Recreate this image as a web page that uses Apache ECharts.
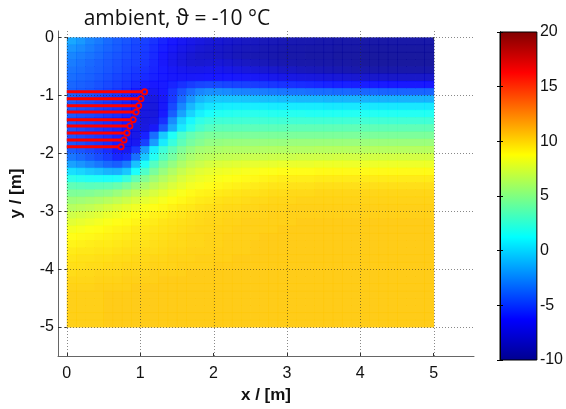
<!DOCTYPE html>
<html><head><meta charset="utf-8">
<script src="https://cdn.jsdelivr.net/npm/echarts@6/dist/echarts.min.js"></script>
<style>html,body{margin:0;padding:0;background:#fff}#c{width:566px;height:409px}</style>
</head><body><div id="c"></div>
<script>
const titleText = 'ambient, \u03D1 = -10 °C';
const xName = 'x / [m]';
const yName = 'y / [m]';
const xTicks = [0, 1, 2, 3, 4, 5];
const yTicks = [0, -1, -2, -3, -4, -5];
const cbTicks = [-10, -5, 0, 5, 10, 15, 20];
const cbRange = [-10, 20];

// cell centres (m), 0.125 m spacing
const xCells = [0.0625,0.1875,0.3125,0.4375,0.5625,0.6875,0.8125,0.9375,1.0625,1.1875,
  1.3125,1.4375,1.5625,1.6875,1.8125,1.9375,2.0625,2.1875,2.3125,2.4375,
  2.5625,2.6875,2.8125,2.9375,3.0625,3.1875,3.3125,3.4375,3.5625,3.6875,
  3.8125,3.9375,4.0625,4.1875,4.3125,4.4375,4.5625,4.6875,4.8125,4.9375];
const yCells = [-0.0625,-0.1875,-0.3125,-0.4375,-0.5625,-0.6875,-0.8125,-0.9375,-1.0625,-1.1875,
  -1.3125,-1.4375,-1.5625,-1.6875,-1.8125,-1.9375,-2.0625,-2.1875,-2.3125,-2.4375,
  -2.5625,-2.6875,-2.8125,-2.9375,-3.0625,-3.1875,-3.3125,-3.4375,-3.5625,-3.6875,
  -3.8125,-3.9375,-4.0625,-4.1875,-4.3125,-4.4375,-4.5625,-4.6875,-4.8125,-4.9375];

// temperature (°C): one row per yCells entry, one column per xCells entry
const T = [
 [-1.6,-2.1,-2.7,-3.1,-3.6,-4.0,-4.3,-4.7,-5.0,-5.4,-5.9,-6.3,-6.7,-7.1,-7.4,-7.7,-7.9,-8.1,-8.3,-8.5,-8.6,-8.8,-8.9,-9.0,-9.1,-9.2,-9.2,-9.3,-9.3,-9.4,-9.4,-9.4,-9.5,-9.5,-9.5,-9.5,-9.5,-9.5,-9.5,-9.5],
 [-2.2,-2.6,-3.0,-3.4,-3.8,-4.1,-4.5,-4.8,-5.1,-5.6,-6.1,-6.6,-7.1,-7.5,-7.9,-8.1,-8.3,-8.5,-8.7,-8.8,-8.9,-9.1,-9.2,-9.3,-9.4,-9.4,-9.5,-9.5,-9.5,-9.6,-9.6,-9.6,-9.7,-9.7,-9.7,-9.7,-9.7,-9.7,-9.7,-9.7],
 [-2.7,-3.0,-3.3,-3.6,-4.0,-4.3,-4.6,-4.9,-5.2,-5.7,-6.3,-6.9,-7.4,-7.9,-8.2,-8.3,-8.4,-8.6,-8.8,-9.0,-9.1,-9.2,-9.3,-9.4,-9.5,-9.5,-9.6,-9.6,-9.6,-9.7,-9.7,-9.7,-9.8,-9.8,-9.8,-9.8,-9.8,-9.8,-9.8,-9.8],
 [-3.0,-3.3,-3.6,-3.9,-4.2,-4.5,-4.8,-5.0,-5.3,-5.8,-6.4,-7.0,-7.5,-7.9,-8.0,-7.9,-7.8,-8.0,-8.3,-8.5,-8.7,-8.9,-9.1,-9.2,-9.3,-9.4,-9.4,-9.5,-9.5,-9.6,-9.6,-9.7,-9.8,-9.8,-9.8,-9.8,-9.8,-9.8,-9.8,-9.8],
 [-3.3,-3.5,-3.8,-4.0,-4.3,-4.6,-4.9,-5.2,-5.5,-5.9,-6.2,-6.6,-6.9,-7.1,-7.1,-7.0,-7.0,-7.2,-7.4,-7.6,-7.8,-8.0,-8.2,-8.4,-8.5,-8.7,-8.8,-8.9,-9.0,-9.1,-9.2,-9.3,-9.3,-9.4,-9.4,-9.4,-9.4,-9.4,-9.4,-9.4],
 [-3.5,-3.7,-3.9,-4.2,-4.5,-4.8,-5.1,-5.4,-5.7,-6.0,-6.2,-6.4,-6.5,-6.5,-6.4,-6.3,-6.3,-6.3,-6.4,-6.5,-6.6,-6.8,-7.0,-7.2,-7.3,-7.4,-7.5,-7.6,-7.7,-7.8,-7.9,-8.0,-8.1,-8.2,-8.2,-8.3,-8.3,-8.3,-8.3,-8.3],
 [-3.7,-3.9,-4.1,-4.4,-4.7,-5.0,-5.3,-5.7,-6.1,-6.3,-6.2,-5.9,-5.5,-5.1,-4.8,-4.7,-4.7,-4.8,-4.9,-5.0,-5.1,-5.2,-5.3,-5.4,-5.5,-5.6,-5.7,-5.8,-5.9,-6.0,-6.0,-6.1,-6.1,-6.2,-6.2,-6.3,-6.3,-6.3,-6.3,-6.3],
 [-3.9,-4.1,-4.3,-4.6,-4.9,-5.2,-5.6,-6.2,-6.8,-6.8,-6.3,-5.3,-4.3,-3.4,-2.7,-2.4,-2.4,-2.5,-2.7,-2.8,-2.9,-3.0,-3.1,-3.2,-3.3,-3.3,-3.4,-3.5,-3.5,-3.6,-3.6,-3.7,-3.7,-3.7,-3.8,-3.8,-3.8,-3.8,-3.8,-3.8],
 [-4.0,-4.3,-4.5,-4.8,-5.1,-5.4,-5.8,-6.4,-7.2,-7.4,-6.6,-5.2,-3.6,-2.2,-1.2,-0.8,-0.6,-0.6,-0.6,-0.7,-0.8,-0.9,-0.9,-1.0,-1.0,-1.1,-1.1,-1.1,-1.2,-1.2,-1.2,-1.2,-1.3,-1.3,-1.3,-1.3,-1.3,-1.3,-1.3,-1.3],
 [-4.1,-4.4,-4.6,-4.9,-5.2,-5.5,-5.9,-6.6,-7.4,-7.6,-6.5,-4.7,-2.7,-1.1,-0.1,0.4,0.6,0.7,0.7,0.7,0.7,0.7,0.6,0.6,0.6,0.6,0.6,0.6,0.5,0.5,0.5,0.5,0.5,0.5,0.5,0.5,0.5,0.5,0.5,0.5],
 [-4.2,-4.5,-4.7,-5.0,-5.3,-5.6,-6.0,-6.8,-7.5,-7.6,-6.2,-4.0,-1.8,-0.2,0.8,1.3,1.6,1.7,1.8,1.8,1.8,1.8,1.7,1.7,1.7,1.7,1.6,1.6,1.6,1.6,1.6,1.6,1.6,1.6,1.6,1.6,1.6,1.6,1.6,1.6],
 [-4.3,-4.6,-4.8,-5.1,-5.4,-5.7,-6.2,-7.0,-7.6,-7.3,-5.5,-2.5,-0.2,1.0,2.0,2.4,2.6,2.6,2.6,2.6,2.6,2.6,2.6,2.6,2.6,2.6,2.6,2.6,2.6,2.6,2.6,2.6,2.6,2.6,2.6,2.6,2.6,2.6,2.6,2.6],
 [-4.3,-4.6,-4.9,-5.2,-5.5,-5.8,-6.4,-7.2,-7.4,-6.5,-4.2,-1.5,0.6,1.9,2.8,3.3,3.5,3.5,3.5,3.5,3.5,3.5,3.5,3.5,3.6,3.6,3.6,3.6,3.6,3.6,3.6,3.6,3.6,3.6,3.6,3.6,3.6,3.6,3.6,3.6],
 [-4.3,-4.6,-4.9,-5.2,-5.5,-6.0,-6.7,-7.2,-6.0,-3.5,-0.5,1.5,2.9,3.7,4.2,4.5,4.5,4.5,4.5,4.5,4.5,4.5,4.5,4.5,4.5,4.5,4.5,4.5,4.5,4.5,4.5,4.5,4.5,4.5,4.5,4.5,4.5,4.5,4.5,4.5],
 [-4.2,-4.5,-4.9,-5.2,-5.6,-6.2,-6.9,-6.8,-5.0,-2.0,0.6,2.3,3.5,4.3,4.8,5.2,5.3,5.4,5.4,5.4,5.4,5.4,5.4,5.4,5.5,5.5,5.5,5.5,5.5,5.5,5.5,5.5,5.5,5.5,5.5,5.5,5.5,5.5,5.5,5.5],
 [-4.0,-4.3,-4.7,-5.1,-5.6,-6.4,-6.8,-5.2,-2.0,0.8,2.5,3.6,4.6,5.3,5.8,6.0,6.1,6.2,6.2,6.2,6.2,6.3,6.3,6.3,6.3,6.3,6.3,6.4,6.4,6.4,6.4,6.4,6.4,6.4,6.4,6.4,6.4,6.4,6.4,6.4],
 [-3.2,-3.6,-4.1,-4.6,-5.1,-5.8,-5.6,-3.4,-0.6,1.6,3.2,4.3,5.3,6.0,6.4,6.6,6.7,6.8,6.9,7.0,7.0,7.0,7.1,7.1,7.1,7.2,7.2,7.2,7.2,7.3,7.3,7.3,7.3,7.3,7.3,7.3,7.3,7.3,7.3,7.3],
 [-1.8,-2.2,-2.7,-3.2,-3.7,-4.0,-3.2,-0.8,1.5,3.2,4.4,5.3,6.1,6.7,7.1,7.4,7.6,7.7,7.8,7.9,8.0,8.0,8.0,8.1,8.1,8.1,8.1,8.2,8.2,8.2,8.2,8.2,8.2,8.2,8.2,8.2,8.2,8.2,8.2,8.2],
 [0.2,-0.1,-0.5,-0.8,-1.2,-1.3,-0.6,1.3,3.0,4.4,5.4,6.2,6.9,7.4,7.8,8.0,8.2,8.3,8.4,8.5,8.6,8.7,8.7,8.8,8.8,8.8,8.8,8.9,8.9,8.9,8.9,8.9,8.9,8.9,8.9,8.9,8.9,8.9,8.9,8.9],
 [2.0,1.8,1.6,1.5,1.4,1.5,2.3,3.6,4.7,5.6,6.3,6.9,7.5,7.9,8.2,8.4,8.6,8.7,8.8,8.9,9.0,9.1,9.2,9.3,9.3,9.3,9.3,9.4,9.4,9.4,9.4,9.4,9.4,9.4,9.4,9.4,9.4,9.4,9.4,9.4],
 [3.6,3.5,3.4,3.5,3.6,3.9,4.5,5.3,6.0,6.6,7.1,7.6,8.0,8.4,8.6,8.8,9.0,9.1,9.2,9.3,9.4,9.5,9.6,9.6,9.7,9.7,9.7,9.8,9.8,9.8,9.8,9.8,9.8,9.8,9.8,9.8,9.8,9.8,9.8,9.8],
 [4.6,4.6,4.7,4.9,5.1,5.5,6.0,6.6,7.1,7.5,7.9,8.3,8.6,8.9,9.1,9.2,9.4,9.5,9.6,9.7,9.7,9.8,9.9,9.9,10.0,10.0,10.0,10.1,10.1,10.1,10.1,10.1,10.1,10.1,10.1,10.1,10.1,10.1,10.1,10.1],
 [5.6,5.7,5.9,6.1,6.4,6.7,7.1,7.5,7.9,8.2,8.5,8.8,9.0,9.2,9.4,9.5,9.7,9.8,9.8,9.9,10.0,10.0,10.1,10.1,10.1,10.2,10.2,10.2,10.2,10.2,10.2,10.2,10.2,10.2,10.2,10.2,10.2,10.2,10.2,10.2],
 [6.4,6.6,6.8,7.1,7.4,7.7,8.0,8.3,8.6,8.8,9.0,9.2,9.4,9.5,9.7,9.8,9.9,10.0,10.0,10.1,10.1,10.2,10.2,10.2,10.3,10.3,10.3,10.3,10.3,10.3,10.3,10.3,10.3,10.3,10.3,10.3,10.3,10.3,10.3,10.3],
 [7.2,7.4,7.6,7.8,8.1,8.3,8.5,8.8,9.0,9.2,9.3,9.5,9.6,9.8,9.9,10.0,10.0,10.1,10.1,10.2,10.2,10.2,10.3,10.3,10.3,10.3,10.3,10.3,10.3,10.3,10.3,10.3,10.3,10.3,10.3,10.3,10.3,10.3,10.3,10.3],
 [7.8,8.0,8.2,8.4,8.6,8.8,8.9,9.1,9.3,9.4,9.6,9.7,9.8,9.9,10.0,10.1,10.1,10.2,10.2,10.3,10.3,10.3,10.3,10.3,10.3,10.4,10.4,10.4,10.4,10.4,10.4,10.4,10.4,10.4,10.4,10.4,10.4,10.4,10.4,10.4],
 [8.4,8.5,8.7,8.8,9.0,9.1,9.2,9.4,9.5,9.6,9.7,9.8,9.9,10.0,10.1,10.1,10.2,10.2,10.3,10.3,10.3,10.3,10.3,10.4,10.4,10.4,10.4,10.4,10.4,10.4,10.4,10.4,10.4,10.4,10.4,10.4,10.4,10.4,10.4,10.4],
 [8.8,8.9,9.0,9.1,9.2,9.3,9.4,9.5,9.6,9.7,9.8,9.9,10.0,10.1,10.1,10.2,10.2,10.3,10.3,10.3,10.3,10.4,10.4,10.4,10.4,10.4,10.4,10.4,10.4,10.4,10.4,10.4,10.4,10.4,10.4,10.4,10.4,10.4,10.4,10.4],
 [9.1,9.2,9.3,9.4,9.4,9.5,9.6,9.7,9.7,9.8,9.9,10.0,10.0,10.1,10.1,10.2,10.2,10.3,10.3,10.3,10.4,10.4,10.4,10.4,10.4,10.4,10.4,10.4,10.4,10.4,10.4,10.4,10.4,10.4,10.4,10.4,10.4,10.4,10.4,10.4],
 [9.4,9.5,9.5,9.6,9.6,9.7,9.8,9.8,9.9,9.9,10.0,10.1,10.1,10.2,10.2,10.2,10.3,10.3,10.3,10.3,10.4,10.4,10.4,10.4,10.4,10.4,10.4,10.4,10.4,10.4,10.4,10.4,10.4,10.4,10.4,10.4,10.4,10.4,10.4,10.4],
 [9.6,9.7,9.7,9.8,9.8,9.9,9.9,10.0,10.0,10.1,10.1,10.2,10.2,10.2,10.3,10.3,10.3,10.3,10.4,10.4,10.4,10.4,10.4,10.4,10.4,10.4,10.4,10.4,10.4,10.4,10.4,10.4,10.4,10.4,10.4,10.4,10.4,10.4,10.4,10.4],
 [9.8,9.8,9.9,9.9,10.0,10.0,10.1,10.1,10.1,10.2,10.2,10.2,10.3,10.3,10.3,10.3,10.4,10.4,10.4,10.4,10.4,10.4,10.4,10.4,10.4,10.4,10.4,10.4,10.4,10.4,10.4,10.4,10.4,10.4,10.4,10.4,10.4,10.4,10.4,10.4],
 [9.9,10.0,10.0,10.1,10.1,10.1,10.2,10.2,10.2,10.3,10.3,10.3,10.3,10.4,10.4,10.4,10.4,10.4,10.4,10.4,10.4,10.4,10.4,10.4,10.4,10.4,10.4,10.4,10.4,10.4,10.4,10.4,10.4,10.4,10.4,10.4,10.4,10.4,10.4,10.4],
 [10.1,10.1,10.1,10.2,10.2,10.2,10.3,10.3,10.3,10.3,10.4,10.4,10.4,10.4,10.4,10.4,10.4,10.4,10.4,10.4,10.4,10.4,10.4,10.4,10.4,10.4,10.4,10.4,10.4,10.4,10.4,10.4,10.4,10.4,10.4,10.4,10.4,10.4,10.4,10.4],
 [10.2,10.2,10.2,10.3,10.3,10.3,10.3,10.4,10.4,10.4,10.4,10.4,10.4,10.4,10.4,10.4,10.4,10.4,10.4,10.4,10.4,10.4,10.4,10.4,10.4,10.4,10.4,10.4,10.4,10.4,10.4,10.4,10.4,10.4,10.4,10.4,10.4,10.4,10.4,10.4],
 [10.3,10.3,10.3,10.3,10.4,10.4,10.4,10.4,10.4,10.4,10.4,10.4,10.4,10.4,10.4,10.4,10.4,10.4,10.4,10.4,10.4,10.4,10.4,10.4,10.4,10.4,10.4,10.4,10.4,10.4,10.4,10.4,10.4,10.4,10.4,10.4,10.4,10.4,10.4,10.4],
 [10.3,10.3,10.3,10.3,10.4,10.4,10.4,10.4,10.4,10.4,10.4,10.4,10.4,10.4,10.4,10.4,10.4,10.4,10.4,10.4,10.4,10.4,10.4,10.4,10.4,10.4,10.4,10.4,10.4,10.4,10.4,10.4,10.4,10.4,10.4,10.4,10.4,10.4,10.4,10.4],
 [10.3,10.3,10.3,10.3,10.4,10.4,10.4,10.4,10.4,10.4,10.4,10.4,10.4,10.4,10.4,10.4,10.4,10.4,10.4,10.4,10.4,10.4,10.4,10.4,10.4,10.4,10.4,10.4,10.4,10.4,10.4,10.4,10.4,10.4,10.4,10.4,10.4,10.4,10.4,10.4],
 [10.3,10.3,10.3,10.3,10.4,10.4,10.4,10.4,10.4,10.4,10.4,10.4,10.4,10.4,10.4,10.4,10.4,10.4,10.4,10.4,10.4,10.4,10.4,10.4,10.4,10.4,10.4,10.4,10.4,10.4,10.4,10.4,10.4,10.4,10.4,10.4,10.4,10.4,10.4,10.4],
 [10.3,10.3,10.3,10.3,10.4,10.4,10.4,10.4,10.4,10.4,10.4,10.4,10.4,10.4,10.4,10.4,10.4,10.4,10.4,10.4,10.4,10.4,10.4,10.4,10.4,10.4,10.4,10.4,10.4,10.4,10.4,10.4,10.4,10.4,10.4,10.4,10.4,10.4,10.4,10.4],
 [10.3,10.3,10.3,10.3,10.4,10.4,10.4,10.4,10.4,10.4,10.4,10.4,10.4,10.4,10.4,10.4,10.4,10.4,10.4,10.4,10.4,10.4,10.4,10.4,10.4,10.4,10.4,10.4,10.4,10.4,10.4,10.4,10.4,10.4,10.4,10.4,10.4,10.4,10.4,10.4]
];

// pipes: depth (m) and end x (m)
const pipeY = [-0.94, -1.06, -1.18, -1.29, -1.42, -1.53, -1.65, -1.77, -1.89];
const pipeXEnd = [1.06, 1.01, 0.98, 0.945, 0.905, 0.86, 0.82, 0.78, 0.74];

const jet = ['#00008f','#0000ff','#0080ff','#00ffff','#80ff80','#ffff00','#ff8000','#ff0000','#800000'];

const heatData = [];
yCells.forEach((y, j) => xCells.forEach((x, i) => heatData.push([x, y, T[j][i]])));
const cellW = xCells[1] - xCells[0];
const cellH = yCells[0] - yCells[1];

const font = '"Liberation Sans", Arial, sans-serif';
const gridStyle = {stroke: 'rgba(40,40,40,0.55)', lineWidth: 1, lineDash: [1, 2]};

const chart = echarts.init(document.getElementById('c'), null, {renderer: 'canvas'});
chart.setOption({
  animation: false,
  title: {text: titleText, left: 172, top: 4, textAlign: 'center',
    textStyle: {fontFamily: '"Open Sans", "DejaVu Sans", sans-serif', fontSize: 21, fontWeight: 'normal', color: '#111'}},
  grid: [
    {left: 58, top: 31, width: 416, height: 326},
    {left: 500, top: 32, width: 37, height: 328}
  ],
  xAxis: [
    {gridIndex: 0, type: 'value', min: -0.12, max: 5.55, position: 'bottom', z: 10,
      name: xName, nameLocation: 'middle', nameGap: 31,
      nameTextStyle: {fontFamily: font, fontSize: 17, fontWeight: 'bold', color: '#111'},
      axisLine: {show: true, onZero: false, lineStyle: {color: '#666', width: 1}},
      axisTick: {show: true, inside: true, length: 3, customValues: xTicks, lineStyle: {color: '#333'}},
      axisLabel: {customValues: xTicks, fontFamily: font, fontSize: 16, color: '#111', margin: 10},
      splitLine: {show: false}},
    {gridIndex: 0, type: 'value', min: -0.12, max: 5.55, position: 'top', z: 10,
      axisLine: {show: false}, axisLabel: {show: false}, splitLine: {show: false},
      axisTick: {show: true, inside: true, length: 2, customValues: xTicks, lineStyle: {color: '#333'}}},
    {gridIndex: 1, type: 'value', min: 0, max: 1, show: false}
  ],
  yAxis: [
    {gridIndex: 0, type: 'value', min: -5.5, max: 0.11, position: 'left', z: 10,
      name: yName, nameLocation: 'middle', nameGap: 33, nameRotate: 90,
      nameTextStyle: {fontFamily: font, fontSize: 17, fontWeight: 'bold', color: '#111'},
      axisLine: {show: true, onZero: false, lineStyle: {color: '#666', width: 1}},
      axisTick: {show: true, inside: true, length: 3, customValues: yTicks, lineStyle: {color: '#333'}},
      axisLabel: {customValues: yTicks, fontFamily: font, fontSize: 16, color: '#111', margin: 4},
      splitLine: {show: false}},
    {gridIndex: 0, type: 'value', min: -5.5, max: 0.11, position: 'right', z: 10,
      axisLine: {show: false}, axisLabel: {show: false}, splitLine: {show: false},
      axisTick: {show: true, inside: true, length: 2, customValues: yTicks, lineStyle: {color: '#333'}}},
    {gridIndex: 1, type: 'value', min: cbRange[0], max: cbRange[1], position: 'right', z: 10,
      axisLine: {show: true, lineStyle: {color: '#000'}},
      axisTick: {show: true, inside: true, length: 3, customValues: cbTicks, lineStyle: {color: '#000'}},
      axisLabel: {customValues: cbTicks, fontFamily: font, fontSize: 16, color: '#111', margin: 3},
      splitLine: {show: false}},
    {gridIndex: 1, type: 'value', min: cbRange[0], max: cbRange[1], position: 'left', z: 10,
      axisLine: {show: true, lineStyle: {color: '#000'}},
      axisTick: {show: true, inside: true, length: 3, customValues: cbTicks, lineStyle: {color: '#000'}},
      axisLabel: {show: false}, splitLine: {show: false}}
  ],
  visualMap: {type: 'continuous', show: false, min: cbRange[0], max: cbRange[1], dimension: 2,
    seriesIndex: 0, inRange: {color: jet}},
  series: [
    {type: 'custom', xAxisIndex: 0, yAxisIndex: 0, z: 1,
      dimensions: ['x', 'y', 't'], encode: {x: 0, y: 1},
      data: heatData,
      renderItem: function (params, api) {
        const x = api.value(0), y = api.value(1);
        const p0 = api.coord([x - cellW / 2, y + cellH / 2]);
        const p1 = api.coord([x + cellW / 2, y - cellH / 2]);
        return {type: 'rect', shape: {x: p0[0], y: p0[1], width: p1[0] - p0[0] + 0.5, height: p1[1] - p0[1] + 0.5},
          style: {fill: api.visual('color'), opacity: 0.9}};
      }},
    {type: 'custom', xAxisIndex: 0, yAxisIndex: 0, z: 5, silent: true,
      encode: {x: 0, y: 1},
      data: [[0, 0]],
      renderItem: function (params, api) {
        const cs = params.coordSys;
        const children = [];
        xTicks.forEach(v => {
          const px = Math.round(api.coord([v, 0])[0]) + 0.5;
          children.push({type: 'line', shape: {x1: px, y1: cs.y, x2: px, y2: cs.y + cs.height}, style: gridStyle});
        });
        yTicks.forEach(v => {
          const py = Math.round(api.coord([0, v])[1]) + 0.5;
          children.push({type: 'line', shape: {x1: cs.x, y1: py, x2: cs.x + cs.width, y2: py}, style: gridStyle});
        });
        return {type: 'group', children: children};
      }},
    {type: 'custom', xAxisIndex: 0, yAxisIndex: 0, z: 20,
      encode: {x: 0, y: 1},
      data: pipeY.map((y, i) => [pipeXEnd[i], y]),
      renderItem: function (params, api) {
        const xe = api.value(0), y = api.value(1);
        const a = api.coord([0, y]);
        const b = api.coord([xe, y]);
        const r = 2.6;
        return {type: 'group', children: [
          {type: 'line', shape: {x1: a[0], y1: a[1], x2: b[0] - r, y2: b[1]}, style: {stroke: '#ff0000', lineWidth: 3}},
          {type: 'circle', shape: {cx: b[0], cy: b[1], r: r}, style: {stroke: '#ff0000', fill: null, lineWidth: 1.8}}
        ]};
      }},
    {type: 'custom', xAxisIndex: 2, yAxisIndex: 2, z: 2,
      data: [[0.5, (cbRange[0] + cbRange[1]) / 2]],
      encode: {x: 0, y: 1},
      renderItem: function (params, api) {
        const p0 = api.coord([0, cbRange[1]]);
        const p1 = api.coord([1, cbRange[0]]);
        const stops = jet.slice().reverse().map((c, k, arr) => ({offset: k / (arr.length - 1), color: c}));
        return {type: 'rect', shape: {x: p0[0], y: p0[1], width: p1[0] - p0[0], height: p1[1] - p0[1]},
          style: {fill: new echarts.graphic.LinearGradient(0, 0, 0, 1, stops), stroke: '#000', lineWidth: 1}};
      }}
  ]
});
</script></body></html>
